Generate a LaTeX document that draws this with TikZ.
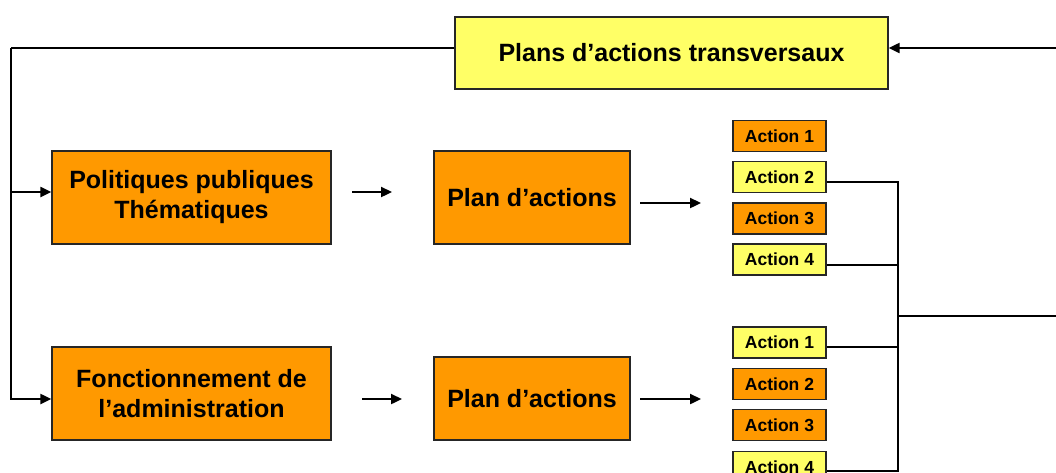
\documentclass[tikz,border=0pt]{standalone}
\usepackage{fontspec}
\setmainfont{Liberation Sans}
\usetikzlibrary{arrows.meta}
\definecolor{boxorange}{HTML}{FF9900}
\definecolor{boxyellow}{HTML}{FFFF66}
\begin{document}
\begin{tikzpicture}[x=1pt,y=-1pt,
  box/.style={draw=black!85, line width=1.4pt, inner sep=0pt, align=center,
    font=\fontsize{25}{30}\selectfont\bfseries},
  bigbox/.style={box, fill=boxorange},
  actbox/.style={box, minimum width=93pt, minimum height=31pt,
    font=\fontsize{17.5}{20}\selectfont\bfseries},
  orangeact/.style={actbox, fill=boxorange},
  yellowact/.style={actbox, fill=boxyellow},
  conn/.style={line width=2.3pt, draw=black},
  arr/.style={conn, -{Triangle[length=11pt,width=10pt]}}]
\useasboundingbox (0,0) rectangle (1056,472);

% top transversal box
\node[box, fill=boxyellow, minimum width=433pt, minimum height=72pt] (trans) at (671.5,53) {Plans d’actions transversaux};

% left column
\node[bigbox, minimum width=279pt, minimum height=93pt] (pp) at (191.5,197.5) {Politiques publiques\\Thématiques};
\node[bigbox, minimum width=279pt, minimum height=93pt] (fa) at (191.5,393.5) {Fonctionnement de\\l’administration};

% action plans
\node[bigbox, minimum width=196pt, minimum height=93pt] (pa1) at (532,197.5) {Plan d’actions};
\node[bigbox, minimum width=196pt, minimum height=83pt] (pa2) at (532,398.5) {Plan d’actions};

% upper group of actions
\node[orangeact] (ta1) at (779.5,136) {Action 1};
\node[yellowact] (ta2) at (779.5,177) {Action 2};
\node[orangeact] (ta3) at (779.5,218.5) {Action 3};
\node[yellowact] (ta4) at (779.5,259.5) {Action 4};

% lower group of actions
\node[yellowact] (ba1) at (779.5,342.5) {Action 1};
\node[orangeact] (ba2) at (779.5,384) {Action 2};
\node[orangeact] (ba3) at (779.5,425) {Action 3};
\node[yellowact] (ba4) at (779.5,467) {Action 4};

% feedback loop from the right edge into the transversal plans
\coordinate (rin) at (1056,48);
\draw[arr] (rin) -- ([yshift=5pt]trans.east);

% transversal plans feeding both left boxes
\coordinate (lc) at (11,48);
\coordinate (ppin) at ([yshift=5.5pt]pp.west);
\draw[conn] ([yshift=5pt]trans.west) -- (lc);
\draw[arr] (lc) |- ([yshift=-5.5pt]fa.west);
\draw[arr] (lc |- ppin) -- (ppin);

% short arrows between the columns
\coordinate (s1) at (352,192); \coordinate (e1) at (392,192);
\coordinate (s2) at (362,399); \coordinate (e2) at (402,399);
\coordinate (s3) at (640,203); \coordinate (e3) at (701,203);
\coordinate (s4) at (640,399); \coordinate (e4) at (701,399);
\draw[arr] (s1) -- (e1);
\draw[arr] (s2) -- (e2);
\draw[arr] (s3) -- (e3);
\draw[arr] (s4) -- (e4);

% collecting bus of selected actions
\coordinate (busT) at (898,182);
\coordinate (busB) at (898,471);
\coordinate (out) at (1056,316);
\draw[conn] ([yshift=-5pt]ta2.east) -- (busT) -- (busB) -- ([yshift=-4pt]ba4.east);
\draw[conn] ([yshift=-5.5pt]ta4.east) -- ([yshift=-5.5pt]ta4.east -| busT);
\draw[conn] ([yshift=-4.5pt]ba1.east) -- ([yshift=-4.5pt]ba1.east -| busT);
\draw[conn] (busT |- out) -- (out);
\end{tikzpicture}
\end{document}
